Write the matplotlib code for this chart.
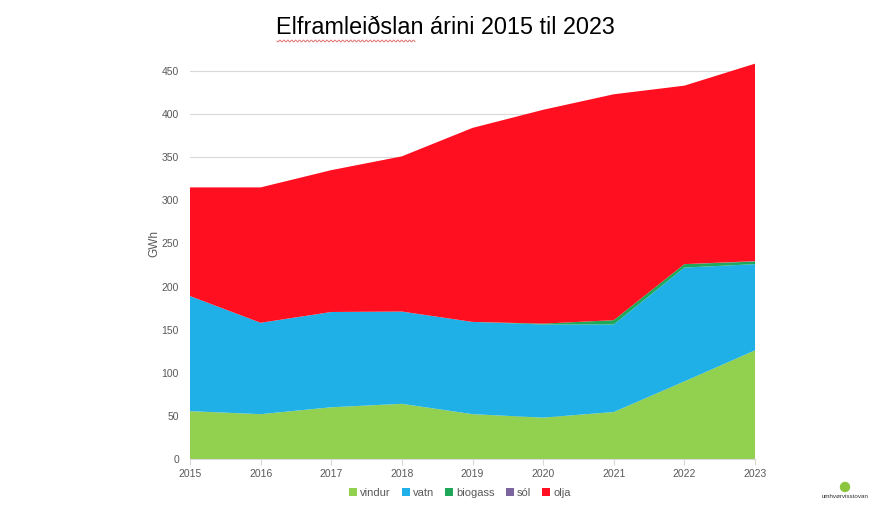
import matplotlib
matplotlib.use("Agg")
import matplotlib.pyplot as plt
import numpy as np
from matplotlib.patches import Ellipse

years = [2015, 2016, 2017, 2018, 2019, 2020, 2021, 2022, 2023]
vindur = [55.5, 52, 60, 64, 52, 48, 54.5, 90, 126]
vatn = [133.5, 106, 110.5, 107, 107, 108, 101.5, 132, 100]
biogass = [0, 0, 0, 0, 0, 1, 5, 4, 3]
sol = [0, 0, 0, 0, 0, 0, 0, 0, 0.5]
olja = [126, 157, 164.5, 180, 225, 248, 262, 207, 229]

labels = ["vindur", "vatn", "biogass", "sól", "olja"]
colors = ["#92D050", "#1FB0E8", "#1FA85A", "#7B64A0", "#FF0F1F"]

plt.rcParams['font.family'] = ['Liberation Sans', 'DejaVu Sans']

fig = plt.figure(figsize=(8.9, 5.19), dpi=100)
ymax = 465
pxper = (459 - 71) / 450.0
top_px = 459 - ymax * pxper
ax = fig.add_axes([190/890, 1-459/519, (755-190)/890, (459-top_px)/519])

ax.stackplot(years, vindur, vatn, biogass, sol, olja, colors=colors, labels=labels, zorder=2)

ax.set_xlim(2015, 2023)
ax.set_ylim(0, ymax)
ax.set_yticks(range(0, 451, 50))
ax.set_xticks(years)
ax.grid(axis='y', color='#D9D9D9', linewidth=0.8, zorder=0)
ax.set_axisbelow(True)
for s in ['top', 'right', 'left']:
    ax.spines[s].set_visible(False)
ax.spines['bottom'].set_color('#D9D9D9')
ax.tick_params(axis='y', length=0, labelsize=7.5, labelcolor='#595959', pad=8)
ax.tick_params(axis='x', length=4, color='#D9D9D9', labelsize=7.5, labelcolor='#595959')
ax.set_ylabel("GWh", fontsize=8.5, color='#595959')
ax.yaxis.set_label_coords(-0.052, (459 - 244) / (459 - top_px))

handles, lbls = ax.get_legend_handles_labels()
fig.legend(handles, lbls, loc='center', bbox_to_anchor=(460/890, 1-493/519), ncol=5,
           frameon=False, fontsize=8, handlelength=0.7, handleheight=0.7,
           handletextpad=0.3, columnspacing=1.0, labelcolor='#595959')

fig.text(445/890, 1-28/519, "Elframleiðslan árini 2015 til 2023", ha='center', va='center',
         fontsize=16.8, color='black')

# spell-check squiggle under first word
xs = np.linspace(277, 415, 200)
ys = 41 + 1.0*np.sin((xs - 277) * 1.6)
fig.add_artist(plt.Line2D(xs/890, 1-ys/519, color='#E06060', linewidth=0.6))

# logo
fig.add_artist(Ellipse((845/890, 1-487/519), 9/890, 9/519, transform=fig.transFigure,
                       color='#8CC63F'))
fig.text(845/890, 1-496/519, "umhvørvisstovan", ha='center', va='center', fontsize=4.5,
         color='#333333')

fig.savefig("out.png", dpi=100)
